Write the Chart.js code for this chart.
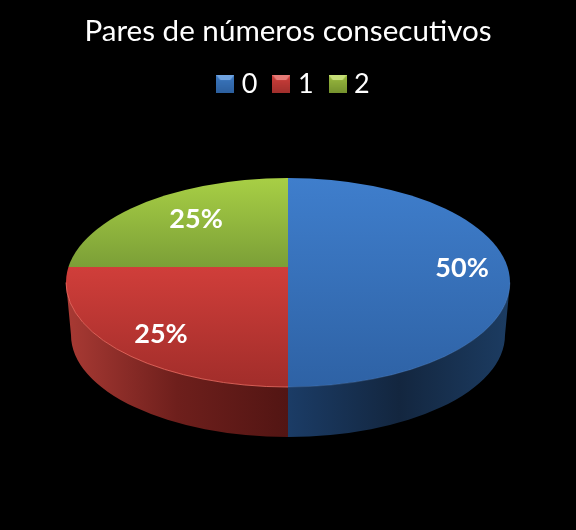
<!DOCTYPE html>
<html>
<head>
<meta charset="utf-8">
<title>Pares de números consecutivos</title>
<script src="https://cdn.jsdelivr.net/npm/chart.js@4"></script>
<style>
html, body { margin: 0; padding: 0; background: #000; }
#wrap { width: 576px; height: 530px; }
</style>
</head>
<body>
<div id="wrap"><canvas id="pie"></canvas></div>
<script>
var chartTitle = 'Pares de números consecutivos';
var categories = ['0', '1', '2'];
var percentages = [50, 25, 25];

/* ======= Look of the 3D pie ======= */
var topColors = [['#3f7ecc', '#2e62a5'], ['#d03e3a', '#a12d2a'], ['#a8cf45', '#7b9f37']];
var topSpans = [[178, 387], [267, 387], [178, 267]];
var sideColors = [['#1b3c66', '#13263f', '#1c3c62'], ['#a93a34', '#6e1f1c', '#521513'], null];
var rimColors = ['rgba(110,160,225,.25)', 'rgba(240,110,100,.8)', null];
var legendColors = [['#6fa3e0', '#3c78c0', '#2c5f9e'], ['#e57a76', '#cf3f3b', '#a02f2c'], ['#c6de78', '#9bbb3f', '#75922e']];
var labelAnchors = [[0.784, -0.065], [-0.572, 0.232], [-0.414, -0.286]];
var centerX = 288, centerY = 282.5, radiusX = 222, radiusY = 104.5;
var apexY = 267, stretchX = 1.15, stretchY = 0.7; // the slices meet above the middle of the ellipse
var baseY = 335, baseRadiusX = 217, baseRadiusY = 102;

// small bevelled square for the legend
function legendBox(colors) {
    var c = document.createElement('canvas');
    c.width = 18; c.height = 18;
    var g = c.getContext('2d');
    var grad = g.createLinearGradient(0, 0, 0, 18);
    grad.addColorStop(0, colors[1]);
    grad.addColorStop(1, colors[2]);
    g.fillStyle = grad;
    g.fillRect(0, 0, 18, 18);
    g.fillStyle = colors[0];
    g.beginPath();
    g.moveTo(0, 0); g.lineTo(18, 0); g.lineTo(14, 5); g.lineTo(4, 5);
    g.closePath();
    g.fill();
    return c;
}

function topGradient(context) {
    var chart = context.chart, area = chart.chartArea, pair = topColors[context.dataIndex];
    if (!area || pair === undefined) { return pair ? pair[0] : '#000'; }
    var mid = (area.top + area.bottom) / 2, span = topSpans[context.dataIndex];
    // screen rows back to the flat pie
    var from = mid + (span[0] - apexY) / stretchY, to = mid + (span[1] - apexY) / stretchY;
    var grad = chart.ctx.createLinearGradient(0, from, 0, to);
    grad.addColorStop(0, pair[0]);
    grad.addColorStop(1, pair[1]);
    return grad;
}

var pie3d = {
    id: 'pie3d',
    afterLayout: function (chart) {
        // legend sits a little right of centre in the reference
        chart.legend.left += 8;
        chart.legend.right += 8;
    },
    beforeDatasetsDraw: function (chart) {
        var ctx = chart.ctx;
        chart.getDatasetMeta(0).data.forEach(function (el, i) {
            if (!sideColors[i]) { return; }
            var a = Math.max(el.startAngle, 0), b = Math.min(el.endAngle, Math.PI);
            if (a >= b) { return; }
            var cols = sideColors[i];
            var x0 = i === 0 ? centerX : centerX - radiusX, x1 = i === 0 ? centerX + radiusX : centerX;
            var grad = ctx.createLinearGradient(x0, 0, x1, 0);
            grad.addColorStop(0, cols[0]);
            grad.addColorStop(0.5, cols[1]);
            grad.addColorStop(1, i === 0 ? cols[2] : cols[2]);
            ctx.save();
            ctx.fillStyle = grad;
            ctx.beginPath();
            ctx.ellipse(centerX, centerY, radiusX, radiusY, 0, a, b);
            ctx.ellipse(centerX, baseY, baseRadiusX, baseRadiusY, 0, b, a, true);
            ctx.closePath();
            ctx.fill();
            ctx.restore();
        });
    },
    // fit the flat pie onto the top face, cut to its ellipse
    beforeDatasetDraw: function (chart) {
        var el = chart.getDatasetMeta(0).data[0], ctx = chart.ctx;
        ctx.save();
        ctx.beginPath();
        ctx.ellipse(centerX, centerY, radiusX, radiusY, 0, 0, Math.PI * 2);
        ctx.clip();
        ctx.translate(centerX, apexY);
        ctx.scale(stretchX, stretchY);
        ctx.translate(-el.x, -el.y);
    },
    afterDatasetDraw: function (chart) {
        chart.ctx.restore();
    },
    afterDatasetsDraw: function (chart) {
        var ctx = chart.ctx;
        chart.getDatasetMeta(0).data.forEach(function (el, i) {
            var a = Math.max(el.startAngle, 0), b = Math.min(el.endAngle, Math.PI);
            ctx.save();
            if (rimColors[i] && a < b) {
                ctx.strokeStyle = rimColors[i];
                ctx.lineWidth = 1;
                ctx.beginPath();
                ctx.ellipse(centerX, centerY, radiusX, radiusY, 0, a, b);
                ctx.stroke();
            }
            ctx.fillStyle = '#fff';
            ctx.font = 'bold 27px Lato';
            ctx.textAlign = 'center';
            ctx.textBaseline = 'middle';
            ctx.fillText(percentages[i] + '%', centerX + labelAnchors[i][0] * radiusX, centerY + labelAnchors[i][1] * radiusX);
            ctx.restore();
        });
    }
};

var bar = new Chart(document.getElementById('pie'), {
    type: 'pie',
    plugins: [pie3d],
    data: {
        labels: categories,
        datasets: [{
            data: percentages,
            backgroundColor: topGradient,
            borderWidth: 0,
            clip: false
        }]
    },
    options: {
        responsive: true,
        maintainAspectRatio: false,
        animation: false,
        events: [],
        radius: radiusX,
        plugins: {
            tooltip: { enabled: false },
            title: {
                display: true,
                text: chartTitle,
                color: '#fff',
                font: { family: 'Lato', size: 29.6, weight: 'normal' },
                padding: { top: 14, bottom: 0 }
            },
            legend: {
                display: true,
                position: 'top',
                labels: {
                    color: '#fff',
                    font: { family: 'Lato', size: 27 },
                    usePointStyle: true,
                    pointStyleWidth: 6,
                    padding: 21,
                    generateLabels: function () {
                        return categories.map(function (name, i) {
                            return { text: name, fontColor: '#fff', pointStyle: legendBox(legendColors[i]), lineWidth: 0, hidden: false, index: i };
                        });
                    }
                }
            }
        }
    }
});
</script>
</body>
</html>
